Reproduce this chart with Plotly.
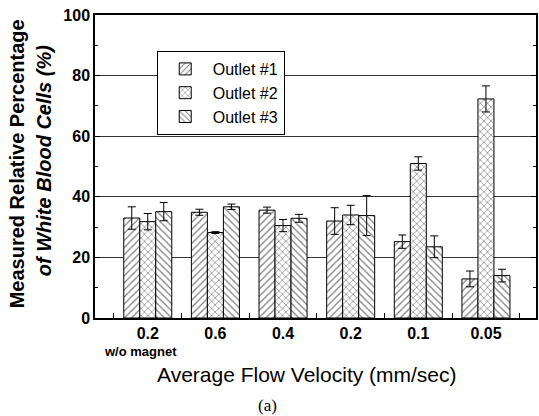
import plotly.graph_objects as go

categories = ["0.2", "0.6", "0.4", "0.2", "0.1", "0.05"]
outlet1 = [33.0, 34.9, 35.6, 32.0, 25.2, 12.9]
outlet1_err = [3.7, 1.0, 1.0, 4.4, 2.2, 2.6]
outlet2 = [31.8, 28.2, 30.5, 34.0, 51.0, 72.3]
outlet2_err = [2.7, 0.3, 2.0, 3.2, 2.2, 4.3]
outlet3 = [35.1, 36.7, 32.9, 33.8, 23.5, 14.0]
outlet3_err = [3.0, 0.9, 1.3, 6.6, 3.6, 2.1]
series_names = ["Outlet #1", "Outlet #2", "Outlet #3"]
patterns = ["/", "x", "\\"]
y_ticks = [0, 20, 40, 60, 80, 100]

W, H = 539, 416
ML, MR, MT, MB = 95, 1, 15, 98

xpos = list(range(len(categories)))
fig = go.Figure()
for name, vals, errs, pat in zip(series_names, [outlet1, outlet2, outlet3],
                                 [outlet1_err, outlet2_err, outlet3_err], patterns):
    fig.add_trace(go.Bar(
        x=xpos, y=vals, name=name,
        error_y=dict(type="data", array=errs, visible=True, color="black",
                     thickness=1, width=4),
        marker=dict(color="white", line=dict(color="black", width=1),
                    pattern=dict(shape=pat, fgcolor="black", bgcolor="white",
                                 size=5, solidity=0.25)),
    ))

font_main = "Liberation Sans, Arial, sans-serif"
fig.update_layout(
    width=W, height=H,
    margin=dict(l=ML, r=MR, t=MT, b=MB),
    paper_bgcolor="white", plot_bgcolor="white",
    barmode="group", bargap=0.29, bargroupgap=0,
    showlegend=True,
    legend=dict(x=(157 - ML) / (W - ML - MR), y=(H - MB - 51) / (H - MT - MB),
                xanchor="left", yanchor="top",
                bordercolor="black", borderwidth=1, bgcolor="white",
                font=dict(family=font_main, size=16, color="black"),
                tracegroupgap=0, itemwidth=45),
    xaxis=dict(range=[-0.78, 5.74], tickvals=xpos, ticktext=categories,
               tickfont=dict(family=font_main, size=16, color="black", weight="bold"),
               showline=True, linecolor="black", linewidth=1.5, mirror=True,
               ticks="", showgrid=False, zeroline=False,
               minor=dict(tickvals=[i + 0.5 for i in range(-1, 6)], ticks="inside",
                          ticklen=5, tickcolor="black", showgrid=False)),
    yaxis=dict(range=[0, 100], tickvals=y_ticks,
               tickfont=dict(family=font_main, size=16, color="black", weight="bold"),
               showline=True, linecolor="black", linewidth=1.5, mirror="ticks",
               ticks="inside", ticklen=5, tickcolor="black",
               showgrid=True, gridcolor="#333", gridwidth=1, zeroline=False,
               minor=dict(dtick=10, ticks="inside", ticklen=3, tickcolor="black",
                          showgrid=False)),
)

annos = [
    dict(text="Measured Relative Percentage", x=17, y=164, textangle=-90,
         font=dict(family=font_main, size=20, color="black", weight="bold")),
    dict(text="<i>of White Blood Cells (%)</i>", x=44, y=161, textangle=-90,
         font=dict(family=font_main, size=20, color="black", weight="bold")),
    dict(text="w/o magnet", x=141, y=351,
         font=dict(family=font_main, size=13, color="black", weight="bold")),
    dict(text="Average Flow Velocity (mm/sec)", x=308, y=374,
         font=dict(family=font_main, size=21, color="black")),
    dict(text="(a)", x=268, y=405,
         font=dict(family="Liberation Serif, Times New Roman, serif", size=17, color="black")),
]
pw, ph = W - ML - MR, H - MT - MB
for a in annos:
    fig.add_annotation(text=a["text"], x=(a["x"] - ML) / pw, y=(H - MB - a["y"]) / ph,
                       xref="paper", yref="paper", showarrow=False,
                       textangle=a.get("textangle", 0), font=a["font"],
                       xanchor="center", yanchor="middle")

fig.write_html("out.html")
